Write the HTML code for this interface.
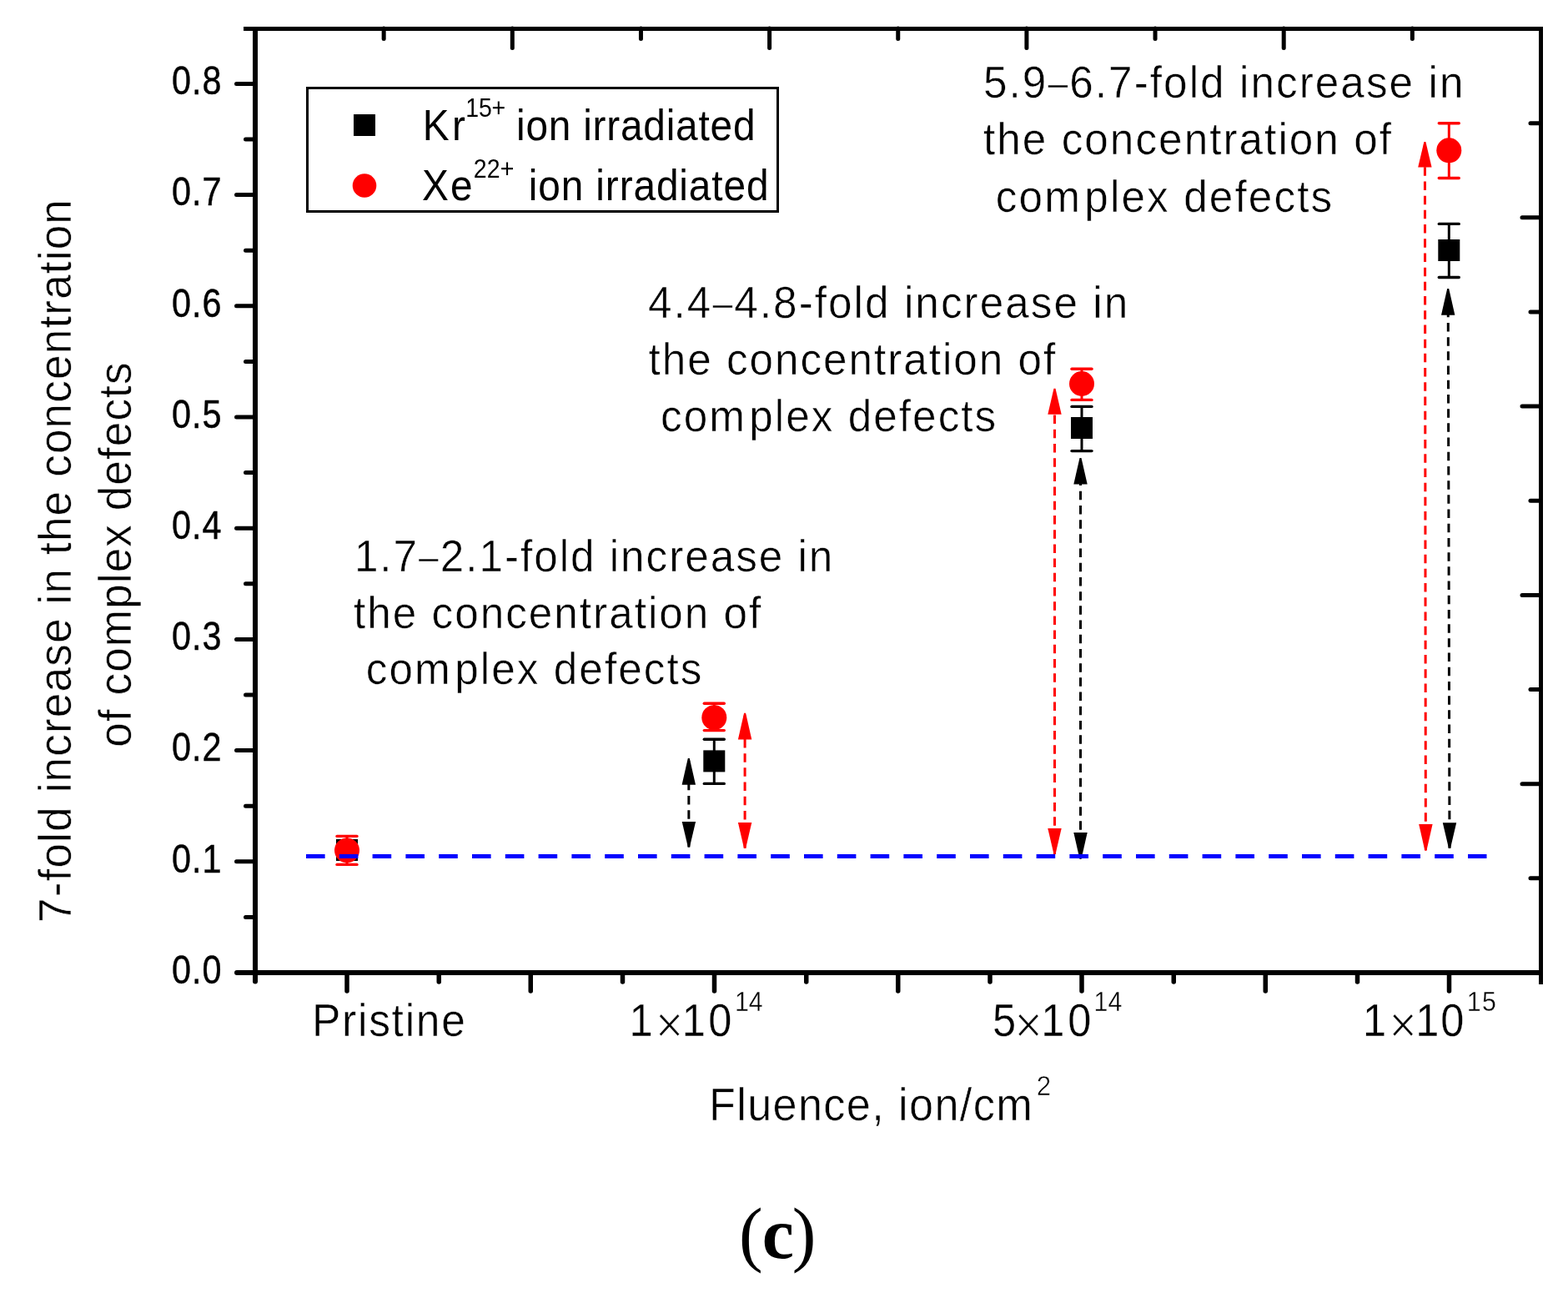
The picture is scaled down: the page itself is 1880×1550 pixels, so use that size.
<!DOCTYPE html>
<html><head><meta charset="utf-8"><title>Fold increase in concentration of complex defects vs fluence</title>
<style>
html,body{margin:0;padding:0;background:#fff;overflow:hidden;}
svg{display:block;}
text{fill:#000;}
</style></head>
<body>
<svg width="1880" height="1550" viewBox="0 0 1880 1550">
<rect x="0" y="0" width="1880" height="1550" fill="#fff"/>
<g id="labels">
<text transform="scale(0.87,1)" stroke="#000" stroke-width="0.45"><tspan x="236.67" y="1178.90" style="font-family:'Liberation Sans', Arial, sans-serif;font-size:47.5px;letter-spacing:1.207px">0.0</tspan></text>
<text transform="scale(0.87,1)" stroke="#000" stroke-width="0.45"><tspan x="236.67" y="1045.70" style="font-family:'Liberation Sans', Arial, sans-serif;font-size:47.5px;letter-spacing:1.207px">0.1</tspan></text>
<text transform="scale(0.87,1)" stroke="#000" stroke-width="0.45"><tspan x="236.67" y="912.50" style="font-family:'Liberation Sans', Arial, sans-serif;font-size:47.5px;letter-spacing:1.207px">0.2</tspan></text>
<text transform="scale(0.87,1)" stroke="#000" stroke-width="0.45"><tspan x="236.67" y="779.30" style="font-family:'Liberation Sans', Arial, sans-serif;font-size:47.5px;letter-spacing:1.207px">0.3</tspan></text>
<text transform="scale(0.87,1)" stroke="#000" stroke-width="0.45"><tspan x="236.67" y="646.10" style="font-family:'Liberation Sans', Arial, sans-serif;font-size:47.5px;letter-spacing:1.207px">0.4</tspan></text>
<text transform="scale(0.87,1)" stroke="#000" stroke-width="0.45"><tspan x="236.67" y="512.90" style="font-family:'Liberation Sans', Arial, sans-serif;font-size:47.5px;letter-spacing:1.207px">0.5</tspan></text>
<text transform="scale(0.87,1)" stroke="#000" stroke-width="0.45"><tspan x="236.67" y="379.70" style="font-family:'Liberation Sans', Arial, sans-serif;font-size:47.5px;letter-spacing:1.207px">0.6</tspan></text>
<text transform="scale(0.87,1)" stroke="#000" stroke-width="0.45"><tspan x="236.67" y="246.50" style="font-family:'Liberation Sans', Arial, sans-serif;font-size:47.5px;letter-spacing:1.207px">0.7</tspan></text>
<text transform="scale(0.87,1)" stroke="#000" stroke-width="0.45"><tspan x="236.67" y="113.30" style="font-family:'Liberation Sans', Arial, sans-serif;font-size:47.5px;letter-spacing:1.207px">0.8</tspan></text>
<text transform="scale(0.92,1)" stroke="#fff" stroke-width="0.5"><tspan x="406.52" y="1242.00" style="font-family:'Liberation Sans', Arial, sans-serif;font-size:56px;letter-spacing:1.879px">Pristine</tspan></text>
<text transform="scale(0.92,1)" stroke="#fff" stroke-width="0.35"><tspan x="820.00" y="1242.00" style="font-family:'Liberation Sans', Arial, sans-serif;font-size:55px">1</tspan><tspan x="854.35" y="1249.70" style="font-family:'Liberation Serif', 'Times New Roman', serif;font-size:64px">×</tspan><tspan x="888.91" y="1242.00" style="font-family:'Liberation Sans', Arial, sans-serif;font-size:55px;letter-spacing:3.478px">10</tspan><tspan x="957.61" y="1212.00" style="font-family:'Liberation Sans', Arial, sans-serif;font-size:33px;letter-spacing:-0.217px">14</tspan></text>
<text transform="scale(0.92,1)" stroke="#fff" stroke-width="0.35"><tspan x="1293.48" y="1242.00" style="font-family:'Liberation Sans', Arial, sans-serif;font-size:55px">5</tspan><tspan x="1322.28" y="1249.70" style="font-family:'Liberation Serif', 'Times New Roman', serif;font-size:64px">×</tspan><tspan x="1356.74" y="1242.00" style="font-family:'Liberation Sans', Arial, sans-serif;font-size:55px;letter-spacing:4.13px">10</tspan><tspan x="1425.65" y="1212.00" style="font-family:'Liberation Sans', Arial, sans-serif;font-size:33px;letter-spacing:0.109px">14</tspan></text>
<text transform="scale(0.92,1)" stroke="#fff" stroke-width="0.35"><tspan x="1775.98" y="1242.00" style="font-family:'Liberation Sans', Arial, sans-serif;font-size:55px">1</tspan><tspan x="1810.33" y="1249.70" style="font-family:'Liberation Serif', 'Times New Roman', serif;font-size:64px">×</tspan><tspan x="1844.89" y="1242.00" style="font-family:'Liberation Sans', Arial, sans-serif;font-size:55px;letter-spacing:1.848px">10</tspan><tspan x="1911.74" y="1212.00" style="font-family:'Liberation Sans', Arial, sans-serif;font-size:33px;letter-spacing:1.522px">15</tspan></text>
<text transform="scale(0.92,1)"><tspan x="550.76" y="168.00" style="font-family:'Liberation Sans', Arial, sans-serif;font-size:52px;letter-spacing:3.587px">Kr</tspan><tspan x="606.74" y="140.00" style="font-family:'Liberation Sans', Arial, sans-serif;font-size:31px;letter-spacing:-0.163px">15+ </tspan><tspan x="672.83" y="168.00" style="font-family:'Liberation Sans', Arial, sans-serif;font-size:52px;letter-spacing:0.836px">ion irradiated</tspan></text>
<text transform="scale(0.92,1)"><tspan x="550.00" y="239.80" style="font-family:'Liberation Sans', Arial, sans-serif;font-size:52px;letter-spacing:2.174px">Xe</tspan><tspan x="617.07" y="213.00" style="font-family:'Liberation Sans', Arial, sans-serif;font-size:31px;letter-spacing:0.163px">22+ </tspan><tspan x="688.91" y="239.80" style="font-family:'Liberation Sans', Arial, sans-serif;font-size:52px;letter-spacing:0.936px">ion irradiated</tspan></text>
<text transform="scale(0.95,1)" stroke="#fff" stroke-width="0.55"><tspan x="1241.05" y="116.70" style="font-family:'Liberation Sans', Arial, sans-serif;font-size:54px;letter-spacing:2.151px">5.9<tspan style="font-size:45px" dy="-2">–</tspan><tspan dy="2">6.7-fold increase in</tspan></tspan><tspan x="1241.05" y="185.50" style="font-family:'Liberation Sans', Arial, sans-serif;font-size:54px;letter-spacing:2.133px">the concentration of</tspan><tspan x="1256.63" y="253.90" style="font-family:'Liberation Sans', Arial, sans-serif;font-size:54px;letter-spacing:2.218px">com<tspan dx="3.5">p</tspan>lex defects</tspan></text>
<text transform="scale(0.95,1)" stroke="#fff" stroke-width="0.55"><tspan x="817.89" y="380.80" style="font-family:'Liberation Sans', Arial, sans-serif;font-size:54px;letter-spacing:2.146px">4.4<tspan style="font-size:45px" dy="-2">–</tspan><tspan dy="2">4.8-fold increase in</tspan></tspan><tspan x="818.42" y="448.70" style="font-family:'Liberation Sans', Arial, sans-serif;font-size:54px;letter-spacing:2.066px">the concentration of</tspan><tspan x="833.68" y="516.60" style="font-family:'Liberation Sans', Arial, sans-serif;font-size:54px;letter-spacing:2.128px">com<tspan dx="3.5">p</tspan>lex defects</tspan></text>
<text transform="scale(0.95,1)" stroke="#fff" stroke-width="0.55"><tspan x="447.26" y="684.80" style="font-family:'Liberation Sans', Arial, sans-serif;font-size:54px;letter-spacing:2.059px">1.7<tspan style="font-size:45px" dy="-2">–</tspan><tspan dy="2">2.1-fold increase in</tspan></tspan><tspan x="446.32" y="752.60" style="font-family:'Liberation Sans', Arial, sans-serif;font-size:54px;letter-spacing:2.094px">the concentration of</tspan><tspan x="461.89" y="820.30" style="font-family:'Liberation Sans', Arial, sans-serif;font-size:54px;letter-spacing:2.158px">com<tspan dx="3.5">p</tspan>lex defects</tspan></text>
<text transform="scale(0.95,1)" stroke="#fff" stroke-width="0.6"><tspan x="894.63" y="1342.70" style="font-family:'Liberation Sans', Arial, sans-serif;font-size:55px;letter-spacing:1.436px">Fluence, ion/cm</tspan><tspan x="1308.11" y="1312.80" style="font-family:'Liberation Sans', Arial, sans-serif;font-size:33px">2</tspan></text>
<text transform="translate(85.00,1106.00) rotate(-90) scale(0.95,1)" x="0" y="0" stroke="#fff" stroke-width="0.6" style="font-family:'Liberation Sans', Arial, sans-serif;font-size:56px;letter-spacing:1.173px">7-fold increase in the concentration</text>
<text transform="translate(157.00,895.70) rotate(-90) scale(0.95,1)" x="0" y="0" stroke="#fff" stroke-width="0.6" style="font-family:'Liberation Sans', Arial, sans-serif;font-size:56px;letter-spacing:1.096px">of complex defects</text>
<text><tspan x="886.00" y="1508.00" style="font-family:'Liberation Serif', 'Times New Roman', serif;font-size:86px">(</tspan><tspan x="913.80" y="1508.00" style="font-family:'Liberation Serif', 'Times New Roman', serif;font-size:86px;font-weight:bold">c</tspan><tspan x="949.80" y="1508.00" style="font-family:'Liberation Serif', 'Times New Roman', serif;font-size:86px">)</tspan></text>
</g>
<g id="plot">
<rect x="303" y="32" width="6" height="1137" fill="#000"/>
<line x1="306" y1="1166" x2="306" y2="1176.5" stroke="#000" stroke-width="6" stroke-linecap="round"/>
<rect x="1845" y="32" width="5" height="1148" fill="#000"/>
<rect x="292" y="32" width="1558" height="5" fill="#000"/>
<rect x="290" y="1163" width="1560" height="6" fill="#000"/>
<line x1="284" y1="1166" x2="295" y2="1166" stroke="#000" stroke-width="6" stroke-linecap="round"/>
<line x1="283.5" y1="1032.80" x2="304" y2="1032.80" stroke="#000" stroke-width="5" stroke-linecap="round"/>
<line x1="283.5" y1="899.60" x2="304" y2="899.60" stroke="#000" stroke-width="5" stroke-linecap="round"/>
<line x1="283.5" y1="766.40" x2="304" y2="766.40" stroke="#000" stroke-width="5" stroke-linecap="round"/>
<line x1="283.5" y1="633.20" x2="304" y2="633.20" stroke="#000" stroke-width="5" stroke-linecap="round"/>
<line x1="283.5" y1="500.00" x2="304" y2="500.00" stroke="#000" stroke-width="5" stroke-linecap="round"/>
<line x1="283.5" y1="366.80" x2="304" y2="366.80" stroke="#000" stroke-width="5" stroke-linecap="round"/>
<line x1="283.5" y1="233.60" x2="304" y2="233.60" stroke="#000" stroke-width="5" stroke-linecap="round"/>
<line x1="283.5" y1="100.40" x2="304" y2="100.40" stroke="#000" stroke-width="5" stroke-linecap="round"/>
<line x1="294.5" y1="1099.40" x2="304" y2="1099.40" stroke="#000" stroke-width="5" stroke-linecap="round"/>
<line x1="294.5" y1="966.20" x2="304" y2="966.20" stroke="#000" stroke-width="5" stroke-linecap="round"/>
<line x1="294.5" y1="833.00" x2="304" y2="833.00" stroke="#000" stroke-width="5" stroke-linecap="round"/>
<line x1="294.5" y1="699.80" x2="304" y2="699.80" stroke="#000" stroke-width="5" stroke-linecap="round"/>
<line x1="294.5" y1="566.60" x2="304" y2="566.60" stroke="#000" stroke-width="5" stroke-linecap="round"/>
<line x1="294.5" y1="433.40" x2="304" y2="433.40" stroke="#000" stroke-width="5" stroke-linecap="round"/>
<line x1="294.5" y1="300.20" x2="304" y2="300.20" stroke="#000" stroke-width="5" stroke-linecap="round"/>
<line x1="294.5" y1="167.00" x2="304" y2="167.00" stroke="#000" stroke-width="5" stroke-linecap="round"/>
<line x1="416.00" y1="1166" x2="416.00" y2="1188" stroke="#000" stroke-width="5.5" stroke-linecap="round"/>
<line x1="636.25" y1="1166" x2="636.25" y2="1188" stroke="#000" stroke-width="5.5" stroke-linecap="round"/>
<line x1="856.50" y1="1166" x2="856.50" y2="1188" stroke="#000" stroke-width="5.5" stroke-linecap="round"/>
<line x1="1076.75" y1="1166" x2="1076.75" y2="1188" stroke="#000" stroke-width="5.5" stroke-linecap="round"/>
<line x1="1297.00" y1="1166" x2="1297.00" y2="1188" stroke="#000" stroke-width="5.5" stroke-linecap="round"/>
<line x1="1517.25" y1="1166" x2="1517.25" y2="1188" stroke="#000" stroke-width="5.5" stroke-linecap="round"/>
<line x1="1737.50" y1="1166" x2="1737.50" y2="1188" stroke="#000" stroke-width="5.5" stroke-linecap="round"/>
<line x1="526.25" y1="1166" x2="526.25" y2="1177" stroke="#000" stroke-width="5.5" stroke-linecap="round"/>
<line x1="746.50" y1="1166" x2="746.50" y2="1177" stroke="#000" stroke-width="5.5" stroke-linecap="round"/>
<line x1="966.75" y1="1166" x2="966.75" y2="1177" stroke="#000" stroke-width="5.5" stroke-linecap="round"/>
<line x1="1187.00" y1="1166" x2="1187.00" y2="1177" stroke="#000" stroke-width="5.5" stroke-linecap="round"/>
<line x1="1407.25" y1="1166" x2="1407.25" y2="1177" stroke="#000" stroke-width="5.5" stroke-linecap="round"/>
<line x1="1627.50" y1="1166" x2="1627.50" y2="1177" stroke="#000" stroke-width="5.5" stroke-linecap="round"/>
<line x1="614.30" y1="34" x2="614.30" y2="57.5" stroke="#000" stroke-width="5" stroke-linecap="round"/>
<line x1="922.60" y1="34" x2="922.60" y2="57.5" stroke="#000" stroke-width="5" stroke-linecap="round"/>
<line x1="1230.90" y1="34" x2="1230.90" y2="57.5" stroke="#000" stroke-width="5" stroke-linecap="round"/>
<line x1="1539.20" y1="34" x2="1539.20" y2="57.5" stroke="#000" stroke-width="5" stroke-linecap="round"/>
<line x1="460.15" y1="34" x2="460.15" y2="46.5" stroke="#000" stroke-width="5" stroke-linecap="round"/>
<line x1="768.45" y1="34" x2="768.45" y2="46.5" stroke="#000" stroke-width="5" stroke-linecap="round"/>
<line x1="1076.75" y1="34" x2="1076.75" y2="46.5" stroke="#000" stroke-width="5" stroke-linecap="round"/>
<line x1="1385.05" y1="34" x2="1385.05" y2="46.5" stroke="#000" stroke-width="5" stroke-linecap="round"/>
<line x1="1693.35" y1="34" x2="1693.35" y2="46.5" stroke="#000" stroke-width="5" stroke-linecap="round"/>
<line x1="1847" y1="939.70" x2="1825" y2="939.70" stroke="#000" stroke-width="5" stroke-linecap="round"/>
<line x1="1847" y1="713.40" x2="1825" y2="713.40" stroke="#000" stroke-width="5" stroke-linecap="round"/>
<line x1="1847" y1="487.10" x2="1825" y2="487.10" stroke="#000" stroke-width="5" stroke-linecap="round"/>
<line x1="1847" y1="260.80" x2="1825" y2="260.80" stroke="#000" stroke-width="5" stroke-linecap="round"/>
<line x1="1847" y1="1052.85" x2="1835" y2="1052.85" stroke="#000" stroke-width="5" stroke-linecap="round"/>
<line x1="1847" y1="826.55" x2="1835" y2="826.55" stroke="#000" stroke-width="5" stroke-linecap="round"/>
<line x1="1847" y1="600.25" x2="1835" y2="600.25" stroke="#000" stroke-width="5" stroke-linecap="round"/>
<line x1="1847" y1="373.95" x2="1835" y2="373.95" stroke="#000" stroke-width="5" stroke-linecap="round"/>
<line x1="1847" y1="147.65" x2="1835" y2="147.65" stroke="#000" stroke-width="5" stroke-linecap="round"/>
<rect x="368.5" y="105.5" width="564" height="148" fill="none" stroke="#000" stroke-width="3"/>
<rect x="424" y="137" width="26" height="26" fill="#000"/>
<circle cx="437" cy="222.5" r="14.3" fill="#ff0000"/>
<rect x="403.0" y="1006.0" width="26" height="26" fill="#000"/>
<line x1="416.0" y1="1002.4" x2="416.0" y2="1036.4" stroke="#ff0000" stroke-width="3"/><line x1="404.0" y1="1002.4" x2="428.0" y2="1002.4" stroke="#ff0000" stroke-width="3.4" stroke-linecap="round"/><line x1="404.0" y1="1036.4" x2="428.0" y2="1036.4" stroke="#ff0000" stroke-width="3.4" stroke-linecap="round"/>
<circle cx="416.0" cy="1019.4" r="15" fill="#ff0000"/>
<line x1="856.3" y1="886.2" x2="856.3" y2="939.4" stroke="#000" stroke-width="3"/><line x1="844.3" y1="886.2" x2="868.3" y2="886.2" stroke="#000" stroke-width="3.4" stroke-linecap="round"/><line x1="844.3" y1="939.4" x2="868.3" y2="939.4" stroke="#000" stroke-width="3.4" stroke-linecap="round"/>
<rect x="843.3" y="899.4" width="26" height="26" fill="#000"/>
<line x1="856.3" y1="843.3" x2="856.3" y2="875.6" stroke="#ff0000" stroke-width="3"/><line x1="844.3" y1="843.3" x2="868.3" y2="843.3" stroke="#ff0000" stroke-width="3.4" stroke-linecap="round"/><line x1="844.3" y1="875.6" x2="868.3" y2="875.6" stroke="#ff0000" stroke-width="3.4" stroke-linecap="round"/>
<circle cx="856.3" cy="860.2" r="15" fill="#ff0000"/>
<line x1="1297.0" y1="487.4" x2="1297.0" y2="540.6" stroke="#000" stroke-width="3"/><line x1="1285.0" y1="487.4" x2="1309.0" y2="487.4" stroke="#000" stroke-width="3.4" stroke-linecap="round"/><line x1="1285.0" y1="540.6" x2="1309.0" y2="540.6" stroke="#000" stroke-width="3.4" stroke-linecap="round"/>
<rect x="1284.0" y="500.0" width="26" height="26" fill="#000"/>
<line x1="1297.0" y1="442.3" x2="1297.0" y2="479.4" stroke="#ff0000" stroke-width="3"/><line x1="1285.0" y1="442.3" x2="1309.0" y2="442.3" stroke="#ff0000" stroke-width="3.4" stroke-linecap="round"/><line x1="1285.0" y1="479.4" x2="1309.0" y2="479.4" stroke="#ff0000" stroke-width="3.4" stroke-linecap="round"/>
<circle cx="1297.0" cy="460.0" r="15" fill="#ff0000"/>
<line x1="1737.3" y1="268.4" x2="1737.3" y2="332.5" stroke="#000" stroke-width="3"/><line x1="1725.3" y1="268.4" x2="1749.3" y2="268.4" stroke="#000" stroke-width="3.4" stroke-linecap="round"/><line x1="1725.3" y1="332.5" x2="1749.3" y2="332.5" stroke="#000" stroke-width="3.4" stroke-linecap="round"/>
<rect x="1724.3" y="287.0" width="26" height="26" fill="#000"/>
<line x1="1737.3" y1="147.7" x2="1737.3" y2="213.5" stroke="#ff0000" stroke-width="3"/><line x1="1725.3" y1="147.7" x2="1749.3" y2="147.7" stroke="#ff0000" stroke-width="3.4" stroke-linecap="round"/><line x1="1725.3" y1="213.5" x2="1749.3" y2="213.5" stroke="#ff0000" stroke-width="3.4" stroke-linecap="round"/>
<circle cx="1737.3" cy="180.3" r="15" fill="#ff0000"/>
<line x1="825.9" y1="1015.6" x2="825.8" y2="912.0" stroke="#000" stroke-width="3" stroke-dasharray="10.5 6.7" stroke-dashoffset="-16.68"/>
<path d="M817.60,940.7 L834.00,940.7 L826.80,909.0 L824.80,909.0 Z" fill="#000"/>
<path d="M817.70,985.1 L834.10,985.1 L826.90,1015.6 L824.90,1015.6 Z" fill="#000"/>
<line x1="893.1" y1="1017.0" x2="893.1" y2="857.8" stroke="#ff0000" stroke-width="3" stroke-dasharray="10.5 6.7" stroke-dashoffset="-0.16"/>
<path d="M884.90,886.6 L901.30,886.6 L894.10,854.8 L892.10,854.8 Z" fill="#ff0000"/>
<path d="M884.90,986.0 L901.30,986.0 L894.10,1017.0 L892.10,1017.0 Z" fill="#ff0000"/>
<line x1="1264.5" y1="1023.9" x2="1264.5" y2="468.8" stroke="#ff0000" stroke-width="3" stroke-dasharray="10.5 6.7" stroke-dashoffset="-16.98"/>
<path d="M1256.30,496.8 L1272.70,496.8 L1265.50,465.8 L1263.50,465.8 Z" fill="#ff0000"/>
<path d="M1256.30,993.0 L1272.70,993.0 L1265.50,1023.9 L1263.50,1023.9 Z" fill="#ff0000"/>
<line x1="1295.5" y1="1029.7" x2="1295.5" y2="552.0" stroke="#000" stroke-width="3" stroke-dasharray="10.5 6.7" stroke-dashoffset="-0.46"/>
<path d="M1287.30,580.6 L1303.70,580.6 L1296.50,549.0 L1294.50,549.0 Z" fill="#000"/>
<path d="M1287.30,998.0 L1303.70,998.0 L1296.50,1029.7 L1294.50,1029.7 Z" fill="#000"/>
<line x1="1709.4" y1="1019.7" x2="1708.4" y2="173.0" stroke="#ff0000" stroke-width="3" stroke-dasharray="10.5 6.7" stroke-dashoffset="-0.56"/>
<path d="M1700.20,200.6 L1716.60,200.6 L1709.40,170.0 L1707.40,170.0 Z" fill="#ff0000"/>
<path d="M1701.20,988.1 L1717.60,988.1 L1710.40,1019.7 L1708.40,1019.7 Z" fill="#ff0000"/>
<line x1="1738.0" y1="1017.0" x2="1736.2" y2="349.1" stroke="#000" stroke-width="3" stroke-dasharray="10.5 6.7" stroke-dashoffset="-0.36"/>
<path d="M1728.00,377.7 L1744.40,377.7 L1737.20,346.1 L1735.20,346.1 Z" fill="#000"/>
<path d="M1729.80,986.2 L1746.20,986.2 L1739.00,1017.0 L1737.00,1017.0 Z" fill="#000"/>
<line x1="367" y1="1026.5" x2="1782.5" y2="1026.5" stroke="#0000ff" stroke-width="5" stroke-dasharray="22.6 17.2"/>
</g>
</svg>
</body></html>
